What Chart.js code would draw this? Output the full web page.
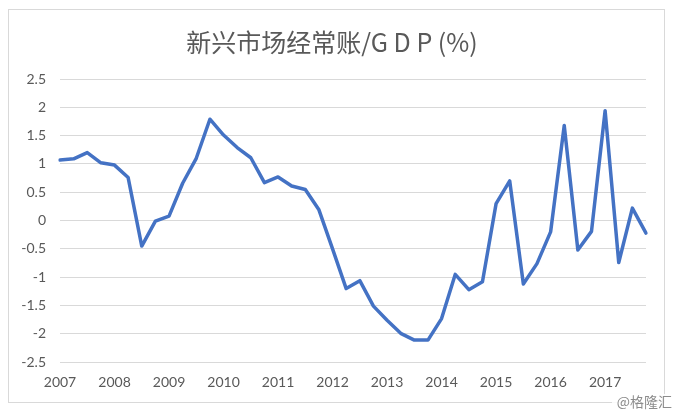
<!DOCTYPE html>
<html lang="zh">
<head>
    <meta charset="UTF-8">
    <title>新兴市场经常账/GDP(%)</title>
    <style>
        body { margin: 0; background: #fff; }
        #wrap { position: relative; width: 674px; height: 415px; }
    </style>
</head>
<body>
    <div id="wrap">
        <canvas id="ca-chart" width="674" height="415"></canvas>
    </div>
    <script src="https://cdn.jsdelivr.net/npm/chart.js"></script>
    <script>
        // quarterly data, 2007Q1 - 2017Q4
        const years = ['2007', '2008', '2009', '2010', '2011', '2012', '2013', '2014', '2015', '2016', '2017'];
        const quarters = ['Q1', 'Q2', 'Q3', 'Q4'];
        const caGdp = [
            1.07, 1.09, 1.20, 1.02,
            0.98, 0.76, -0.45, -0.01,
            0.08, 0.66, 1.10, 1.79,
            1.51, 1.29, 1.11, 0.67,
            0.77, 0.61, 0.55, 0.19,
            -0.50, -1.20, -1.06, -1.51,
            -1.76, -1.99, -2.11, -2.11,
            -1.73, -0.95, -1.22, -1.08,
            0.30, 0.70, -1.12, -0.76,
            -0.20, 1.68, -0.52, -0.19,
            1.94, -0.74, 0.22, -0.22
        ];

        const labels = [];
        years.forEach(y => quarters.forEach(q => labels.push(y + q)));

        // frame + watermark
        const framePlugin = {
            id: 'frame',
            beforeDraw(chart) {
                const c = chart.ctx;
                c.save();
                c.fillStyle = '#fff';
                c.fillRect(0, 0, chart.width, chart.height);
                c.strokeStyle = '#d9d9d9';
                c.lineWidth = 1;
                c.strokeRect(8.5, 9.5, 656, 393);
                c.restore();
            },
            afterDraw(chart) {
                const c = chart.ctx;
                c.save();
                c.fillStyle = 'rgba(255,255,255,0.85)';
                c.fillRect(612, 394, 62, 16);
                c.font = '14px "Noto Sans CJK SC"';
                c.fillStyle = '#8c8c8c';
                c.textAlign = 'right';
                c.textBaseline = 'middle';
                c.fillText('@格隆汇', 672, 402);
                c.restore();
            }
        };

        Chart.defaults.font.family = 'Lato, "Noto Sans CJK SC", sans-serif';
        Chart.defaults.color = '#595959';

        const ctx = document.getElementById('ca-chart').getContext('2d');
        const caChart = new Chart(ctx, {
            type: 'line',
            data: {
                labels: labels,
                datasets: [{
                    label: '经常账/GDP',
                    data: caGdp,
                    borderColor: '#4472C4',
                    borderWidth: 3.5,
                    borderJoinStyle: 'round',
                    borderCapStyle: 'round',
                    pointRadius: 0,
                    tension: 0,
                    fill: false
                }]
            },
            options: {
                responsive: false,
                animation: false,
                layout: {
                    padding: { left: 18, right: 28, top: 10, bottom: 12 }
                },
                plugins: {
                    legend: { display: false },
                    tooltip: { enabled: false },
                    title: {
                        display: true,
                        text: '新兴市场经常账/G D P (%)',
                        color: '#595959',
                        font: { size: 25, weight: 'normal', family: '"Noto Sans CJK SC", Lato, sans-serif' },
                        padding: { top: 17, bottom: 22 }
                    }
                },
                scales: {
                    x: {
                        grid: { display: false, drawTicks: false },
                        border: { display: false },
                        ticks: {
                            autoSkip: false,
                            maxRotation: 0,
                            padding: 12,
                            font: { size: 14 },
                            callback: function(value, index) {
                                const l = labels[index];
                                return l.endsWith('Q1') ? l.slice(0, 4) : '';
                            }
                        }
                    },
                    y: {
                        min: -2.5,
                        max: 2.5,
                        afterFit: function(scale) { scale.width = 42; },
                        grid: { color: '#d9d9d9', drawTicks: false },
                        border: { display: false },
                        ticks: {
                            stepSize: 0.5,
                            padding: 14,
                            font: { size: 14 },
                            callback: function(value) { return String(value); }
                        }
                    }
                }
            },
            plugins: [framePlugin]
        });
    </script>
</body>
</html>
